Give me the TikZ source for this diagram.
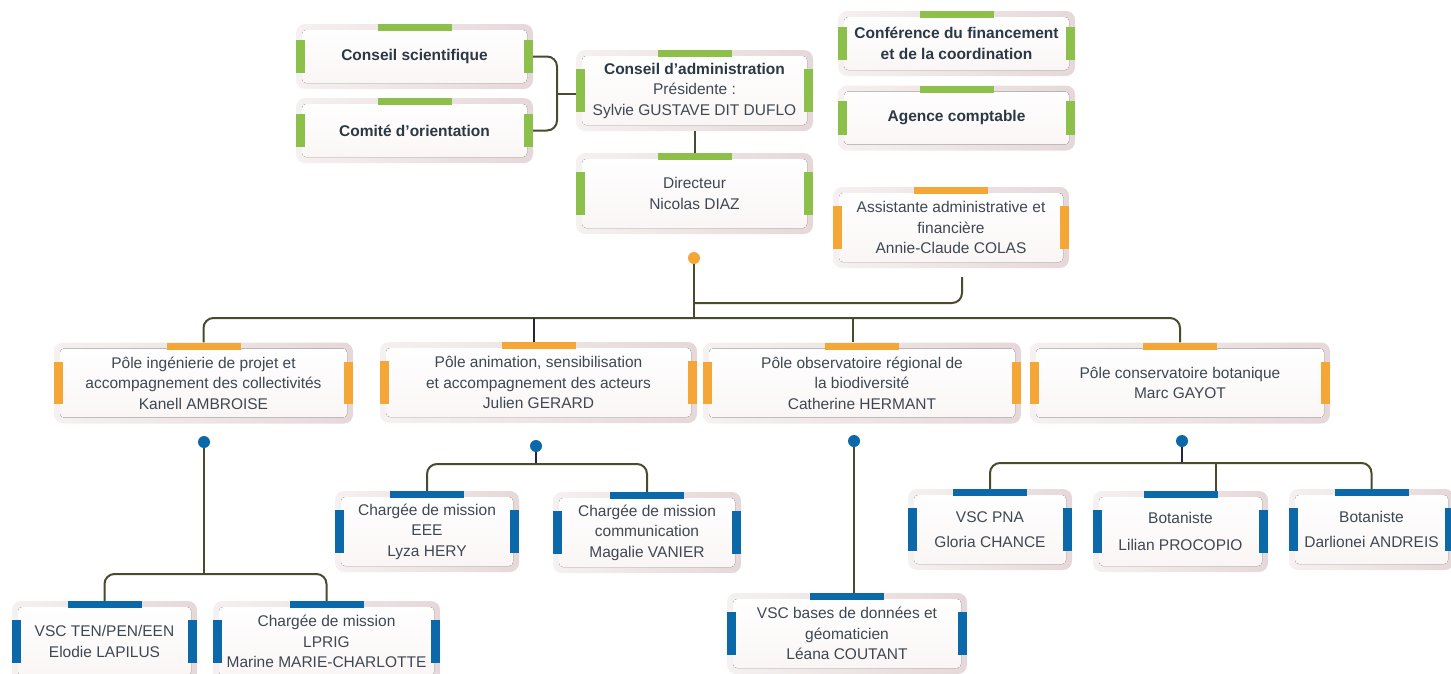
\documentclass[tikz,border=0pt]{standalone}
\usepackage{fontspec}
\setmainfont{Liberation Sans}
\usetikzlibrary{calc}
\usetikzlibrary{positioning}

\definecolor{leaf}{HTML}{8CC04B}
\definecolor{amber}{HTML}{F4A736}
\definecolor{ocean}{HTML}{0B69AA}
\definecolor{rimlight}{HTML}{F5F1F0}
\definecolor{rimdark}{HTML}{E6D8D8}
\definecolor{cardlow}{HTML}{FAF5F5}
\definecolor{ink}{HTML}{3E4852}
\definecolor{inkbold}{HTML}{2B3845}
\definecolor{wire}{HTML}{4A4A2C}
\definecolor{navy}{HTML}{25253F}

\tikzstyle{card} = [
    rounded corners=9pt,
    left color=rimlight,
    right color=rimdark,
    inner sep=0pt,
    align=center,
    text=ink,
    font=\fontsize{15.5}{20.5}\selectfont,
    minimum height=81pt
]
\tikzstyle{short} = [minimum height=65pt]
\tikzstyle{heading} = [
    font=\fontsize{15.5}{20.5}\selectfont\bfseries,
    text=inkbold
]
\tikzstyle{link} = [draw=wire, line width=2pt]
\tikzstyle{navy_link} = [draw=navy, line width=2pt]
\tikzstyle{orange_dot} = [circle, fill=amber, inner sep=0pt, minimum size=12pt]
\tikzstyle{blue_dot} = [circle, fill=ocean, inner sep=0pt, minimum size=12pt]

\tikzset{
    bars/.style={
        path picture={
            \fill[top color=white, bottom color=cardlow, rounded corners=4pt]
                ([shift={(6pt,6pt)}]path picture bounding box.south west)
                rectangle ([shift={(-6pt,-6pt)}]path picture bounding box.north east);
            % top tab
            \fill[#1, sharp corners] ([xshift=-37pt]path picture bounding box.north)
                rectangle ([shift={(37pt,-7pt)}]path picture bounding box.north);
            % side tabs
            \fill[#1, sharp corners] ($(path picture bounding box.south west)!0.24!(path picture bounding box.north west)$)
                rectangle ($(path picture bounding box.north west)!0.24!(path picture bounding box.south west)+(9pt,0)$);
            \fill[#1, sharp corners] ($(path picture bounding box.south east)!0.24!(path picture bounding box.north east)$)
                rectangle ($(path picture bounding box.north east)!0.24!(path picture bounding box.south east)+(-9pt,0)$);
        }
    },
    green_card/.style={card, bars=leaf},
    orange_card/.style={card, bars=amber},
    blue_card/.style={card, bars=ocean}
}

\begin{document}
\begin{tikzpicture}[x=1pt, y=-1pt]
\useasboundingbox (0,0) rectangle (1451,673);

% board level
\node [green_card, short, heading, minimum width=237pt] (cs) at (414.5,56.5) {Conseil scientifique};
\node [green_card, short, heading, minimum width=237pt] (co) at (414.5,130.5) {Comité d’orientation};
\node [green_card, minimum width=237pt] (ca) at (694.5,90.5)
    {{\bfseries\color{inkbold}Conseil d’administration}\\Présidente :\\Sylvie GUSTAVE DIT DUFLO};
\node [green_card, minimum width=237pt] (di) at (694.5,193.5) {Directeur\\Nicolas DIAZ};
\node [green_card, short, heading, minimum width=237pt] (cf) at (956.5,43.5)
    {Conférence du financement\\et de la coordination};
\node [green_card, short, heading, minimum width=237pt] (ac) at (956.5,118) {Agence comptable};
\node [orange_card, minimum width=236pt] (as) at (951,227.5)
    {Assistante administrative et\\financière\\Annie-Claude COLAS};

% poles
\node [orange_card, minimum width=299pt] (p1) at (203.5,383)
    {Pôle ingénierie de projet et\\accompagnement des collectivités\\Kanell AMBROISE};
\node [orange_card, minimum width=317pt] (p2) at (538.5,382.5)
    {Pôle animation, sensibilisation\\et accompagnement des acteurs\\Julien GERARD};
\node [orange_card, minimum width=318pt] (p3) at (862,383)
    {Pôle observatoire régional de\\la biodiversité\\Catherine HERMANT};
\node [orange_card, minimum width=300pt] (p4) at (1180,383)
    {Pôle conservatoire botanique\\Marc GAYOT};

% staff
\node [blue_card, minimum width=185pt] (t1) at (104.5,641.5) {VSC TEN/PEN/EEN\\Elodie LAPILUS};
\node [blue_card, minimum width=227pt] (t2) at (326.5,641.5)
    {Chargée de mission\\LPRIG\\Marine MARIE-CHARLOTTE};
\node [blue_card, minimum width=184pt] (e1) at (427,531.5) {Chargée de mission\\EEE\\Lyza HERY};
\node [blue_card, minimum width=188pt] (e2) at (647,532.5)
    {Chargée de mission\\communication\\Magalie VANIER};
\node [blue_card, minimum width=240pt] (v1) at (847,633.5)
    {VSC bases de données et\\géomaticien\\Léana COUTANT};
\node [blue_card, minimum width=164pt] (b1) at (990,529.5) {VSC PNA\\[4pt]Gloria CHANCE};
\node [blue_card, minimum width=175pt] (b2) at (1180.5,531.5) {Botaniste\\[6pt]Lilian PROCOPIO};
\node [blue_card, minimum width=165pt] (b3) at (1371.5,529.5) {Botaniste\\[5pt]Darlionei ANDREIS};

% hubs
\node [orange_dot] (hub) at (694,258) {};
\node [blue_dot] (d1) at (204,442) {};
\node [blue_dot] (d2) at (536,446) {};
\node [blue_dot] (d3) at (854,441) {};
\node [blue_dot] (d4) at (1182,441) {};

\coordinate (board_join) at (557,94);
\coordinate (trunk) at (694,318);
\coordinate (as_join) at (694,303);
\coordinate (as_foot) at ([shift={(11pt,-9pt)}]as.south);
\coordinate (p2_top) at ([xshift=-5pt]p2.north);
\coordinate (p3_top) at ([xshift=-9pt]p3.north);
\coordinate (p1_fork) at (204,574);
\coordinate (p2_fork) at (536,464);
\coordinate (p4_fork) at (1182,463);
\coordinate (b2_top) at ([xshift=35pt]b2.north);

\draw [link, rounded corners=10pt] (cs.east) -| (board_join) |- (co.east);
\draw [link] (board_join) -- (board_join -| ca.west);
\draw [link] (ca.south) -- (di.north);

\draw [link] (hub) -- (trunk);
\draw [link, rounded corners=10pt] (as_foot) |- (as_join);
\draw [link, rounded corners=10pt] (p1.north) |- (trunk) -| (p4.north);
\draw [navy_link] (p2_top) -- (p2_top |- trunk);
\draw [link] (p3_top) -- (p3_top |- trunk);

\draw [link] (d1) -- (p1_fork);
\draw [link, rounded corners=10pt] (t1.north) |- (p1_fork) -| (t2.north);
\draw [navy_link] (d2) -- (p2_fork);
\draw [link, rounded corners=10pt] (e1.north) |- (p2_fork) -| (e2.north);
\draw [link] (d3) -- (d3 |- v1.north);
\draw [navy_link] (d4) -- (p4_fork);
\draw [link, rounded corners=10pt] (b1.north) |- (p4_fork) -| (b3.north);
\draw [link] (b2_top) -- (b2_top |- p4_fork);
\end{tikzpicture}
\end{document}
